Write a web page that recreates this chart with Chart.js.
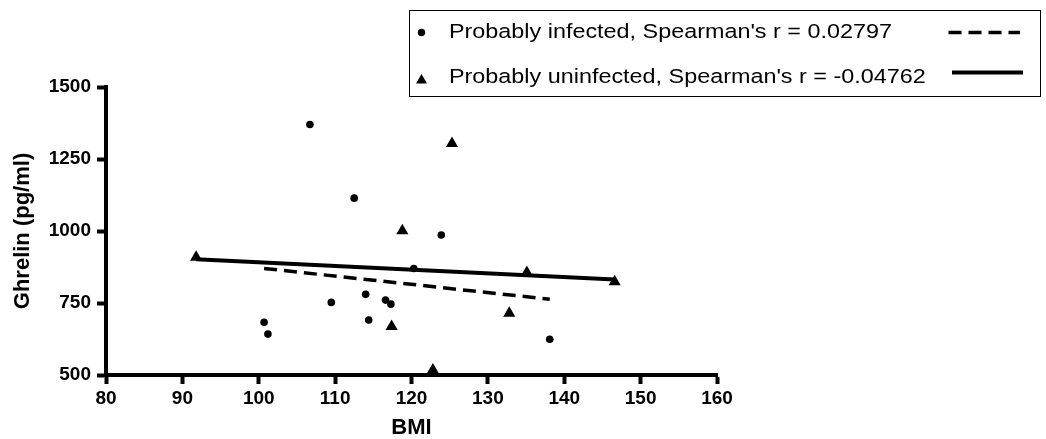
<!DOCTYPE html>
<html lang="en">
<head>
  <meta charset="UTF-8" />
  <title>Ghrelin vs BMI</title>
  <script src="https://cdn.jsdelivr.net/npm/chart.js"></script>
  <style>
    body { margin: 0; background: #fff; }
    .wrap { position: relative; width: 1046px; height: 439px; }
    .legend {
      position: absolute; left: 409px; top: 10px; width: 630px; height: 85px;
      border: 1.5px solid #000; box-sizing: content-box;
    }
    .legend svg { position: absolute; left: 0; top: 0; }
    .legend span {
      position: absolute; left: 39px; white-space: nowrap;
      font-family: "Liberation Sans", Arial, sans-serif; font-size: 20.5px; line-height: 20.5px;
      transform: scaleX(1.14); transform-origin: left center;
    }
  </style>
</head>
<body>
  <div class="wrap">
    <canvas id="scatter" width="1046" height="439"></canvas>

    <!-- legend -->
    <div class="legend">
      <svg width="632" height="87">
        <circle cx="11.5" cy="21.5" r="3.7" fill="#000" />
        <polygon points="11.5,63 17,72.5 6,72.5" fill="#000" />
        <line x1="538.5" y1="21.5" x2="610" y2="21.5" stroke="#000" stroke-width="3.5" stroke-dasharray="13 7" />
        <line x1="542" y1="61.5" x2="613" y2="61.5" stroke="#000" stroke-width="4" />
      </svg>
      <span style="top:10px">Probably infected, Spearman's r = 0.02797</span>
      <span style="top:55px">Probably uninfected, Spearman's r = -0.04762</span>
    </div>
  </div>

  <script>
    // probably infected (circles)
    const infectedBMI = [106.7, 112.5, 123.9, 120.3, 114.0, 116.6, 117.3, 109.5, 114.4, 100.7, 101.2, 138.1];
    const infectedGhrelin = [1370, 1114, 986, 870, 780, 760, 746, 752, 691, 683, 642, 624];

    // probably uninfected (triangles)
    const uninfectedBMI = [91.8, 125.3, 118.8, 135.1, 146.6, 132.8, 117.4, 122.8];
    const uninfectedGhrelin = [909, 1304, 1001, 856, 824, 714, 668, 517];

    // fitted lines, end points
    const infectedFitBMI = [100.7, 138.1];
    const infectedFitGhrelin = [870, 763];
    const uninfectedFitBMI = [91.8, 146.6];
    const uninfectedFitGhrelin = [902, 832];

    const xTicks = [80, 90, 100, 110, 120, 130, 140, 150, 160];
    const yTicks = [500, 750, 1000, 1250, 1500];

    function pairs(xs, ys) {
      return xs.map((x, i) => ({ x: x, y: ys[i] }));
    }

    const tickFont = { family: "'Liberation Sans', Arial, sans-serif", size: 19, weight: "bold" };
    const titleFont = { family: "'Liberation Sans', Arial, sans-serif", size: 22, weight: "bold", lineHeight: "22px" };

    new Chart(document.getElementById("scatter"), {
      type: "scatter",
      data: {
        datasets: [
          {
            label: "Probably infected",
            data: pairs(infectedBMI, infectedGhrelin),
            pointStyle: "circle", pointRadius: 3.8,
            backgroundColor: "#000", borderColor: "#000", borderWidth: 0,
            clip: false
          },
          {
            label: "Probably uninfected",
            data: pairs(uninfectedBMI, uninfectedGhrelin),
            pointStyle: "triangle", pointRadius: 7,
            backgroundColor: "#000", borderColor: "#000", borderWidth: 0,
            clip: false
          },
          {
            label: "Infected fit",
            data: pairs(infectedFitBMI, infectedFitGhrelin),
            showLine: true, pointRadius: 0,
            borderColor: "#000", borderWidth: 3.5, borderDash: [13, 7]
          },
          {
            label: "Uninfected fit",
            data: pairs(uninfectedFitBMI, uninfectedFitGhrelin),
            showLine: true, pointRadius: 0,
            borderColor: "#000", borderWidth: 4
          }
        ]
      },
      options: {
        responsive: false,
        animation: false,
        layout: { padding: { left: 0, right: 329, top: 87, bottom: 0 } },
        plugins: { legend: { display: false }, tooltip: { enabled: false } },
        scales: {
          x: {
            type: "linear",
            min: 80, max: 160,
            afterFit: s => { s.height = 64; },
            afterBuildTicks: s => { s.ticks = xTicks.map(v => ({ value: v })); },
            ticks: { font: tickFont, color: "#000", padding: 3, maxRotation: 0, callback: v => String(v) },
            grid: { drawOnChartArea: false, drawTicks: true, tickLength: 9, tickWidth: 4, tickColor: "#000" },
            border: { display: true, color: "#000", width: 4 },
            title: { display: true, text: "BMI", font: titleFont, color: "#000", padding: { top: 0, bottom: 0 } }
          },
          y: {
            type: "linear",
            min: 500, max: 1500,
            afterFit: s => { s.width = 106; },
            afterBuildTicks: s => { s.ticks = yTicks.map(v => ({ value: v })); },
            ticks: { font: tickFont, color: "#000", padding: 6, callback: v => String(v) },
            grid: { drawOnChartArea: false, drawTicks: true, tickLength: 9, tickWidth: 4, tickColor: "#000" },
            border: { display: true, color: "#000", width: 4 },
            title: { display: true, text: "Ghrelin (pg/ml)", font: titleFont, color: "#000", padding: { top: 12, bottom: 0 } }
          }
        }
      }
    });
  </script>
</body>
</html>
